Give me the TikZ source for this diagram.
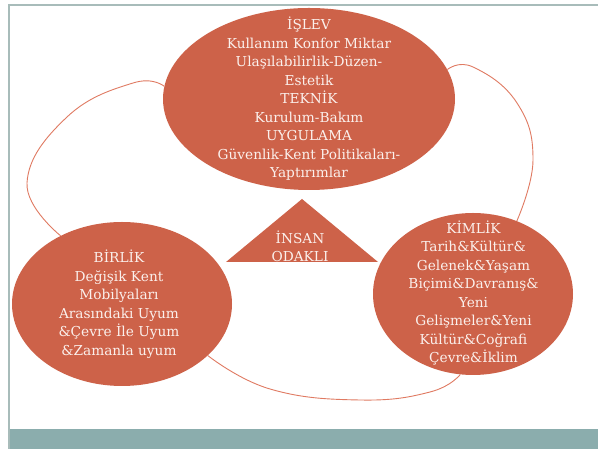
\documentclass[tikz,border=0pt]{standalone}
\usepackage{fontspec}
\setmainfont{DejaVu Serif}
\usetikzlibrary{shapes.geometric}
\definecolor{terra}{HTML}{CD6249}
\definecolor{link}{HTML}{E07A62}
\definecolor{framec}{HTML}{A8BCBA}
\definecolor{band}{HTML}{8BADAD}
\definecolor{txt}{HTML}{FBF0EC}
\begin{document}
\begin{tikzpicture}[x=1pt,y=1pt,
  blob/.style={ellipse, fill=terra, inner sep=0pt},
  lbl/.style={text=txt, align=center, inner sep=0pt, font=\fontsize{13.7}{18.5}\selectfont},
  loopline/.style={draw=link, line width=0.9pt}]
\useasboundingbox (0,0) rectangle (598,449);
\fill[white] (0,0) rectangle (598,449);
\fill[band] (9,0) rectangle (598,20);
\draw[framec, line width=2pt] (8.5,0) -- (8.5,443.5) -- (598,443.5);
% shapes
\node[blob, minimum width=292pt, minimum height=182pt] (islev) at (309,350) {};
\node[blob, minimum width=220pt, minimum height=164pt] (birlik) at (122,145) {};
\node[blob, minimum width=200pt, minimum height=162pt] (kimlik) at (473,155) {};
\coordinate (tl) at (226,187);
\coordinate (tt) at (302,250);
\coordinate (tr) at (378,187);
\fill[terra] (tl) -- (tt) -- (tr) -- cycle;
% connectors
\draw[loopline] plot[smooth, tension=0.75] coordinates {(islev.175) (133,366) (67,332) (27,266) (birlik.132)};
\draw[loopline] plot[smooth, tension=0.75] coordinates {(islev.12) (473,382) (517,346) (533,289) (kimlik.59)};
\draw[loopline] plot[smooth, tension=0.75] coordinates {(birlik.-31) (270,60) (360,49) (430,57) (kimlik.-99)};
% texts
\node[lbl] (islevt) at (islev.center) {İŞLEV\\Kullanım Konfor Miktar\\Ulaşılabilirlik-Düzen-\\Estetik\\TEKNİK\\Kurulum-Bakım\\UYGULAMA\\Güvenlik-Kent Politikaları-\\Yaptırımlar};
\node[lbl] (birlikt) at (119,145) {BİRLİK\\Değişik Kent\\Mobilyaları\\Arasındaki Uyum\\\&Çevre İle Uyum\\\&Zamanla uyum};
\node[lbl] (kimlikt) at (473.5,156) {KİMLİK\\Tarih\&Kültür\&\\Gelenek\&Yaşam\\Biçimi\&Davranış\&\\Yeni\\Gelişmeler\&Yeni\\Kültür\&Coğrafi\\Çevre\&İklim};
\node[lbl] (insan) at (300,202.5) {İNSAN\\ODAKLI};
\end{tikzpicture}
\end{document}
